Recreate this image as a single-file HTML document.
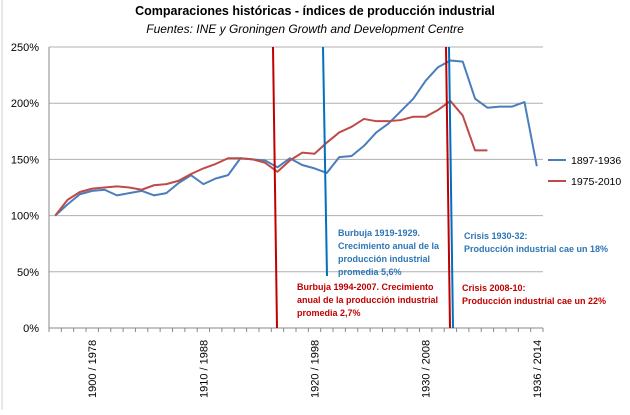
<!DOCTYPE html>
<html><head><meta charset="utf-8"><style>
body{margin:0;background:#fff;font-family:"Liberation Sans",sans-serif}
svg text{font-family:"Liberation Sans",sans-serif}
</style></head><body>
<svg id="c" width="630" height="410" xmlns="http://www.w3.org/2000/svg">
<line x1="2" y1="0" x2="2" y2="410" stroke="#d0d0d0" stroke-width="1"/>
<text x="315" y="15" text-anchor="middle" font-size="12.5" font-weight="bold" fill="#000">Comparaciones históricas - índices de producción industrial</text>
<text x="305" y="33" text-anchor="middle" font-size="12" font-style="italic" fill="#000">Fuentes: INE y Groningen Growth and Development Centre</text>
<g id="grid"></g><g id="axes"></g><g id="series"></g>
<g>
<line x1="273" y1="47" x2="277" y2="328" stroke="#c00000" stroke-width="2"/>
<line x1="323" y1="47" x2="327" y2="276" stroke="#0070c0" stroke-width="2"/>
<line x1="446" y1="47" x2="450" y2="328" stroke="#c00000" stroke-width="2"/>
<line x1="449" y1="47" x2="453" y2="328" stroke="#0070c0" stroke-width="2"/>
<g font-size="9" font-weight="bold" fill="#2e75b6">
<text x="338" y="236">Burbuja 1919-1929.</text><text x="338" y="249">Crecimiento anual de la</text><text x="338" y="262">producción industrial</text><text x="338" y="275">promedia 5,6%</text></g>
<g font-size="9" font-weight="bold" fill="#c00000">
<text x="297" y="290">Burbuja 1994-2007.   Crecimiento</text><text x="297" y="303">anual de la producción industrial</text><text x="297" y="316">promedia 2,7%</text></g>
<g font-size="9" font-weight="bold" fill="#2e75b6">
<text x="464" y="239">Crisis 1930-32:</text><text x="464" y="252">Producción industrial cae un 18%</text></g>
<g font-size="9" font-weight="bold" fill="#c00000">
<text x="462" y="291">Crisis 2008-10:</text><text x="462" y="304">Producción industrial cae un 22%</text></g>
</g>
<g>
<line x1="548" y1="160" x2="566" y2="160" stroke="#4a7ebb" stroke-width="2"/>
<text x="571" y="164" font-size="10.5">1897-1936</text>
<line x1="548" y1="181" x2="566" y2="181" stroke="#be4b48" stroke-width="2"/>
<text x="571" y="185" font-size="10.5">1975-2010</text>
</g>
</svg>
<script>
const blueValues=[100,110,119,122,123,118,120,122,118,120,129,136,128,133,136,151,150,149,143,151,145,142,138,152,153,162,174,182,193,204,220,232,238,237,204,196,197,197,201,144];
const redValues=[100,114,121,124,125,126,125,123,127,128,131,137,142,146,151,151,150,147,139,149,156,155,165,174,179,186,184,184,185,188,188,194,202,189,158,158];
const yTicks=[0,50,100,150,200,250];
const xLabels=["1900 / 1978","1910 / 1988","1920 / 1998","1930 / 2008","1936 / 2014"];
const xLabelIdx=[3,12,21,30,39];
const nCat=40;
const L=49,R=543,T=47,B=328;
const ns="http://www.w3.org/2000/svg";
const xs=i=>L+(R-L)/nCat*(i+0.5);
const ys=v=>B-(B-T)*v/250;
function mk(tag,attrs,parent){const e=document.createElementNS(ns,tag);for(const k in attrs)e.setAttribute(k,attrs[k]);document.getElementById(parent).appendChild(e);return e;}
yTicks.forEach(t=>{
 const g=mk('line',{x1:L,x2:R,y1:ys(t),y2:ys(t),stroke:t===0?'#888':'#b0b0b0','stroke-width':1},'grid');
 
 
 const tx=mk('text',{x:L-10,y:ys(t)+4,'text-anchor':'end','font-size':11,fill:'#000'},'axes');
 tx.textContent=t+'%';
 
 
});
const ya=mk('line',{x1:L,x2:L,y1:T,y2:B,stroke:'#888'},'axes');


for(let i=0;i<=nCat;i++){const x=L+(R-L)/nCat*i;const tk=mk('line',{x1:x,x2:x,y1:B,y2:B+4,stroke:'#888'},'axes');
 
 }
xLabels.forEach((s,k)=>{const x=xs(xLabelIdx[k])+4;const t=mk('text',{x:x,y:398,'font-size':11,transform:`rotate(-90 ${x} 398)`},'axes');t.textContent=s;
 
 });
function line(vals,color,name){const p=mk('polyline',{points:vals.map((v,i)=>xs(i)+','+ys(v)).join(' '),fill:'none',stroke:color,'stroke-width':2,'stroke-linejoin':'round'},'series');
 
 }
line(blueValues,'#4a7ebb','series-1897-1936');
line(redValues,'#be4b48','series-1975-2010');
</script>
</body></html>
